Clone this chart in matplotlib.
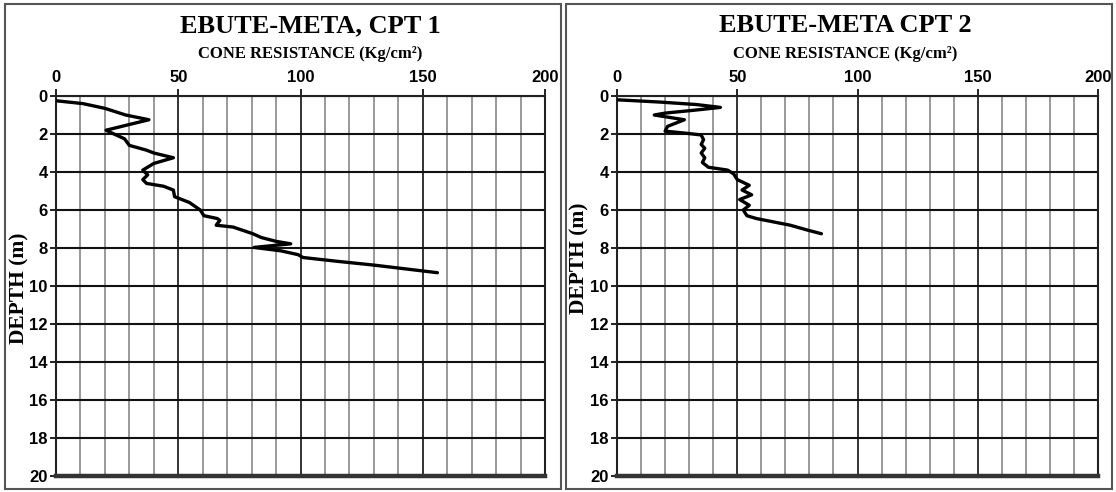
#   Perfiles de penetración de cono (CPT) en Ebute-Meta
#   resistencia de punta contra profundidad

import matplotlib.pyplot as plt
from matplotlib.patches import Rectangle

depth_cpt1 = [0.25, 0.4, 0.65, 1.0, 1.25, 1.5, 1.8, 1.9, 2.25, 2.6, 2.85, 3.0,
              3.25, 3.55, 3.9, 4.15, 4.4, 4.6, 4.75, 4.95, 5.3, 5.6, 6.0, 6.3,
              6.45, 6.55, 6.8, 6.9, 7.25, 7.45, 7.65, 7.78, 7.97, 8.15, 8.35,
              8.5, 8.7, 8.9, 9.1, 9.3]
qc_cpt1 = [0, 11, 20, 28.5, 38, 30, 20.5, 22, 28, 30, 37, 40,
           48, 40, 35.5, 37.5, 35.5, 37, 44, 48, 48.5, 54.5, 59, 60.5,
           66, 67, 65.5, 72.5, 80.5, 84, 90, 96, 81, 92, 99,
           101, 115, 130, 143, 156]

depth_cpt2 = [0.2, 0.32, 0.45, 0.6, 0.75, 0.9, 1.0, 1.25, 1.6, 1.85, 1.95, 2.05,
              2.3, 2.55, 2.75, 3.0, 3.25, 3.5, 3.75, 3.9, 4.1, 4.4, 4.7, 4.95,
              5.2, 5.45, 5.75, 6.0, 6.3, 6.45, 6.6, 6.8, 7.05, 7.25]
qc_cpt2 = [0, 18, 33, 43, 32, 20, 15.5, 28, 21, 20, 28, 35,
           36, 35, 36.5, 35, 36.5, 35.5, 38, 46, 48.5, 50, 55, 52,
           56, 51, 55, 52.5, 54, 58, 64, 72, 79, 85]

qc_ticks = [0, 50, 100, 150, 200]
qc_minor = list(range(0, 201, 10))
depth_ticks = list(range(0, 21, 2))

titles = ["EBUTE-META, CPT 1", "EBUTE-META CPT 2"]
subtitle = "CONE RESISTANCE (Kg/cm²)"

W, H = 1116, 492
fig = plt.figure(figsize=(W / 100, H / 100), dpi=100)

def px_box(x0, y0, x1, y1):
    # caja en píxeles (origen arriba a la izquierda) -> fracción de figura
    return [x0 / W, 1 - y1 / H, (x1 - x0) / W, (y1 - y0) / H]

sans = ["Liberation Sans Narrow", "Liberation Sans", "DejaVu Sans"]
serif = ["Liberation Serif", "DejaVu Serif"]

def draw_panel(ax, depth, qc):
    ax.plot(qc, depth, color="black", lw=2.4, solid_joinstyle="round",
            solid_capstyle="round", zorder=5)
    ax.set_xlim(0, 200)
    ax.set_ylim(20, 0)
    ax.xaxis.tick_top()
    ax.set_xticks(qc_ticks)
    ax.set_xticks(qc_minor, minor=True)
    ax.set_yticks(depth_ticks)
    ax.set_axisbelow(True)
    ax.grid(which="minor", axis="x", color="#999999", lw=1.4)
    ax.grid(which="major", axis="x", color="#333333", lw=1.4)
    ax.grid(which="major", axis="y", color="#111111", lw=1.5)
    ax.tick_params(which="major", direction="out", length=5, width=1.4,
                   color="#222222", pad=3)
    ax.tick_params(which="minor", length=0)
    ax.tick_params(axis="y", length=4, pad=2)
    for lab in ax.get_xticklabels() + ax.get_yticklabels():
        lab.set_fontfamily(sans)
        lab.set_fontweight("bold")
        lab.set_fontsize(12)
    for side in ["left", "top", "right"]:
        ax.spines[side].set_color("#222222")
        ax.spines[side].set_linewidth(1.5)
    ax.spines["bottom"].set_color("#333333")
    ax.spines["bottom"].set_linewidth(3.2)

ax1 = fig.add_axes(px_box(56, 96, 545, 476))
ax2 = fig.add_axes(px_box(617, 96, 1098, 476))
draw_panel(ax1, depth_cpt1, qc_cpt1)
draw_panel(ax2, depth_cpt2, qc_cpt2)

# marcos de cada gráfico
for box in [px_box(5, 4, 561, 489), px_box(566, 4, 1112, 489)]:
    fig.patches.append(Rectangle((box[0], box[1]), box[2], box[3],
                                 transform=fig.transFigure, fill=False,
                                 lw=1.5, ec="#555555"))

# títulos y rótulos de ejes
for cx, title in zip([310, 845], titles):
    fig.text(cx / W, 1 - 26 / H, title, ha="center", va="center",
             family=serif, weight="bold", size=19)
    fig.text(cx / W, 1 - 54 / H, subtitle, ha="center", va="center",
             family=serif, weight="bold", size=12)

fig.text(19 / W, 1 - 288 / H, "DEPTH (m)", rotation=90, ha="center",
         va="center", family=serif, weight="bold", size=15.5)
fig.text(579 / W, 1 - 258 / H, "DEPTH (m)", rotation=90, ha="center",
         va="center", family=serif, weight="bold", size=15.5)

fig.savefig("out.png", dpi=100, facecolor="white")
